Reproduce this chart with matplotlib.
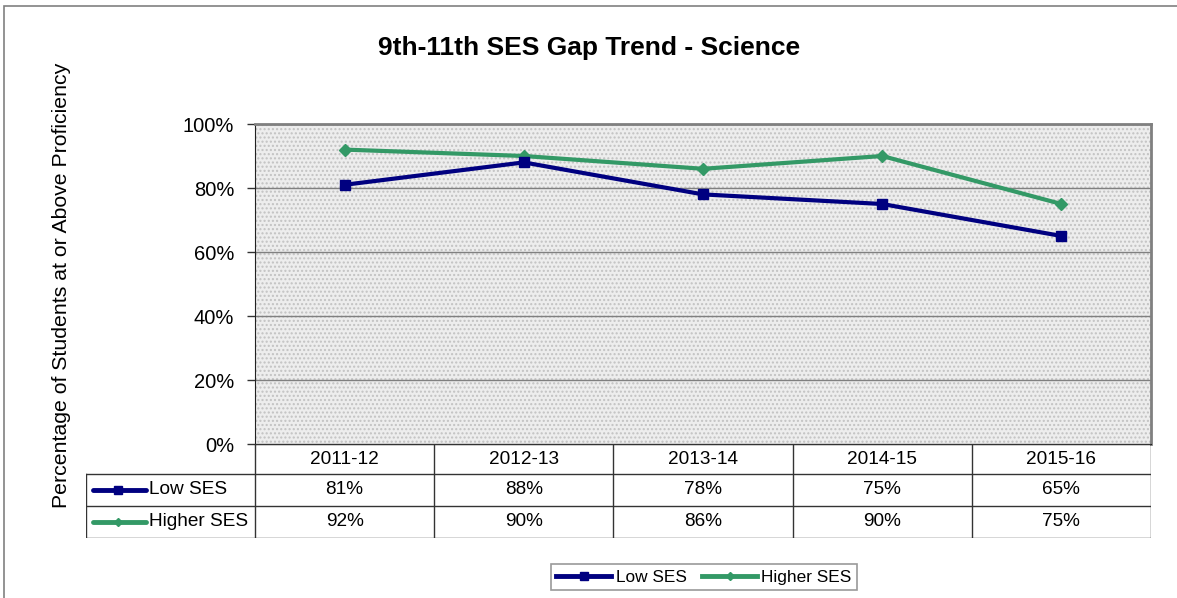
import numpy as np
import matplotlib
matplotlib.use("Agg")
import matplotlib.pyplot as plt
from matplotlib.lines import Line2D
from matplotlib.patches import Rectangle

plt.rcParams['font.family'] = ['Liberation Sans', 'DejaVu Sans']

# Proficiency rates by school year
years = ["2011-12", "2012-13", "2013-14", "2014-15", "2015-16"]
low_ses = [81, 88, 78, 75, 65]
higher_ses = [92, 90, 86, 90, 75]
series_names = ["Low SES", "Higher SES"]
y_ticks = [0, 20, 40, 60, 80, 100]

NAVY = "#000080"
GREEN = "#339966"
W, H = 1177, 598


def fx(px):
    return px / W


def fy(py):
    return 1 - py / H


fig = plt.figure(figsize=(W / 100, H / 100), dpi=100)

# outer chart frame
fig.patches.append(Rectangle((fx(4), fy(700)), fx(1300), fy(6) - fy(700),
                             transform=fig.transFigure, fill=False,
                             edgecolor="#808080", lw=1.2))

# plot area
L, R, T, B = 255, 1151, 124, 444
ax = fig.add_axes([fx(L), fy(B), fx(R - L), fy(T) - fy(B)])
ax.set_facecolor("#ededed")
ax.add_patch(Rectangle((0, 0), 1, 1, transform=ax.transAxes, facecolor="none",
                       edgecolor="#c2c2c2", hatch="....", lw=0, zorder=0))
x = np.arange(len(years))
ax.set_xlim(-0.5, len(years) - 0.5)
ax.set_ylim(0, 100)
ax.set_yticks(y_ticks)
ax.set_yticklabels([f"{t}%" for t in y_ticks], fontsize=14.5)
ax.set_xticks([])
ax.yaxis.grid(True, color="#808080", lw=1)
ax.set_axisbelow(True)
ax.tick_params(axis="y", length=6, width=1, color="#333333", pad=9)
for side in ("top", "right"):
    ax.spines[side].set_color("#808080")
    ax.spines[side].set_linewidth(2)
ax.spines["left"].set_color("#222222")
ax.spines["bottom"].set_color("#222222")

ax.plot(x, higher_ses, color=GREEN, lw=3, marker="D", ms=6, zorder=3)
ax.plot(x, low_ses, color=NAVY, lw=3, marker="s", ms=7, zorder=4)

fig.text(fx(589), fy(48), "9th-11th SES Gap Trend - Science", ha="center",
         va="center", fontsize=19, fontweight="bold")
fig.text(fx(62), fy(285), "Percentage of Students at or Above Proficiency",
         rotation=90, ha="center", va="center", fontsize=15.3)

# data table under the plot
TL, TT, TB = 86, 444, 538
tab = fig.add_axes([fx(TL), fy(TB), fx(R - TL), fy(TT) - fy(TB)])
tab.set_xlim(TL, R)
tab.set_ylim(TB, TT)
tab.axis("off")
row_edges = [444, 474, 506, 538]
col_w = (R - L) / len(years)
lc = "#333333"
# horizontal rules
tab.plot([L, R], [row_edges[0]] * 2, color=lc, lw=1)
for yy in row_edges[1:]:
    tab.plot([TL, R], [yy, yy], color=lc, lw=1)
# vertical rules
tab.plot([TL, TL], [row_edges[1], TB], color=lc, lw=1)
for i in range(len(years) + 1):
    xx = L + i * col_w
    tab.plot([xx, xx], [TT, TB], color=lc, lw=1)

for i, yr in enumerate(years):
    cx = L + (i + 0.5) * col_w
    tab.text(cx, (row_edges[0] + row_edges[1]) / 2, yr, ha="center",
             va="center", fontsize=13.7)
    tab.text(cx, (row_edges[1] + row_edges[2]) / 2, f"{low_ses[i]}%",
             ha="center", va="center", fontsize=13.7)
    tab.text(cx, (row_edges[2] + row_edges[3]) / 2, f"{higher_ses[i]}%",
             ha="center", va="center", fontsize=13.7)

for r, (name, col, mk, ms) in enumerate(zip(series_names, [NAVY, GREEN],
                                            ["s", "D"], [6, 4])):
    cy = (row_edges[r + 1] + row_edges[r + 2]) / 2
    tab.plot([93, 146], [cy, cy], color=col, lw=3.5, solid_capstyle="round")
    tab.plot([118], [cy], color=col, marker=mk, ms=ms)
    tab.text(149, cy, name, ha="left", va="center", fontsize=13.7)

# legend at the bottom
handles = [Line2D([], [], color=NAVY, lw=3.5, marker="s", ms=6),
           Line2D([], [], color=GREEN, lw=3.5, marker="D", ms=4)]
leg = fig.legend(handles, series_names, loc="center",
                 bbox_to_anchor=(fx(704), fy(577)), ncol=2, fontsize=12.4,
                 frameon=True, fancybox=False, edgecolor="#808080",
                 handlelength=3.2, handletextpad=0.25, columnspacing=0.9,
                 borderpad=0.3)
leg.get_frame().set_linewidth(1.2)

fig.savefig("out.png", dpi=100)
